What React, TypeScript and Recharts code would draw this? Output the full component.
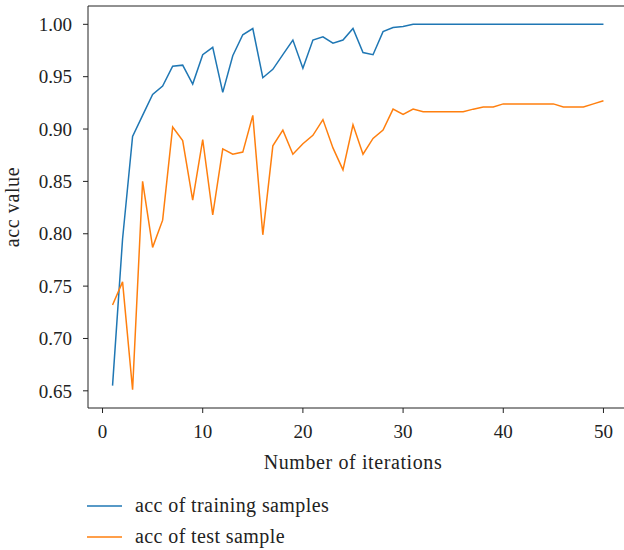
import { LineChart, Line, XAxis, YAxis, Legend, ReferenceLine } from 'recharts';

const iterations = [
  1, 2, 3, 4, 5, 6, 7, 8, 9, 10, 11, 12, 13, 14, 15, 16, 17, 18, 19, 20, 21, 22, 23, 24, 25,
  26, 27, 28, 29, 30, 31, 32, 33, 34, 35, 36, 37, 38, 39, 40, 41, 42, 43, 44, 45, 46, 47, 48, 49, 50,
];

const trainAcc = [
  0.655, 0.795, 0.893, 0.913, 0.933, 0.941, 0.96, 0.961, 0.943, 0.971,
  0.978, 0.935, 0.97, 0.99, 0.996, 0.949, 0.957, 0.971, 0.985, 0.958,
  0.985, 0.988, 0.982, 0.985, 0.996, 0.973, 0.971, 0.993, 0.997, 0.998,
  1.0, 1.0, 1.0, 1.0, 1.0, 1.0, 1.0, 1.0, 1.0, 1.0,
  1.0, 1.0, 1.0, 1.0, 1.0, 1.0, 1.0, 1.0, 1.0, 1.0,
];

const testAcc = [
  0.732, 0.754, 0.651, 0.85, 0.787, 0.813, 0.902, 0.889, 0.832, 0.89,
  0.818, 0.881, 0.876, 0.878, 0.913, 0.799, 0.884, 0.899, 0.876, 0.886,
  0.894, 0.909, 0.882, 0.861, 0.904, 0.876, 0.891, 0.899, 0.919, 0.914,
  0.919, 0.9165, 0.9165, 0.9165, 0.9165, 0.9165, 0.919, 0.921, 0.921, 0.924,
  0.924, 0.924, 0.924, 0.924, 0.924, 0.921, 0.921, 0.921, 0.924, 0.927,
];

const xTicks = [0, 10, 20, 30, 40, 50];
const yTicks = [0.65, 0.7, 0.75, 0.8, 0.85, 0.9, 0.95, 1.0];

const seriesNames = ['acc of training samples', 'acc of test sample'];
const BLUE = '#1f77b4';
const ORANGE = '#ff7f0e';
const FONT = "'Liberation Serif', 'Times New Roman', Tinos, 'DejaVu Serif', serif";
const Y_MAX = 1.0175;

const data = iterations.map((it, i) => ({ it, train: trainAcc[i], test: testAcc[i] }));

function LegendBox() {
  const items = [
    { name: seriesNames[0], color: BLUE },
    { name: seriesNames[1], color: ORANGE },
  ];
  return (
    <div style={{ paddingTop: 12, fontFamily: FONT, fontSize: 20, color: '#222' }}>
      {items.map((it) => (
        <div key={it.name} style={{ height: 31, display: 'flex', alignItems: 'center' }}>
          <svg width={35} height={4} style={{ marginRight: 13 }}>
            <line x1={0} y1={2} x2={35} y2={2} stroke={it.color} strokeWidth={1.5} />
          </svg>
          <span style={{ letterSpacing: 0.4 }}>{it.name}</span>
        </div>
      ))}
    </div>
  );
}

export default function App() {
  const tickStyle = { fontFamily: FONT, fontSize: 19, fill: '#222' };
  return (
    <div style={{ position: 'absolute', left: 0, top: 0, width: 624, height: 550, overflow: 'hidden', background: '#fff', fontFamily: FONT }}>
      <LineChart width={640} height={550} data={data} margin={{ top: 6, right: 12, left: 0, bottom: 8 }}>
        <XAxis
          dataKey="it"
          type="number"
          domain={[-1.45, 52.45]}
          ticks={xTicks}
          allowDataOverflow
          tickSize={5}
          tickMargin={12}
          height={70}
          tick={tickStyle}
          stroke="#222"
          label={{ value: 'Number of iterations', position: 'insideBottom', offset: 9, dx: -5, style: { fontFamily: FONT, fontSize: 20, fill: '#222', letterSpacing: 0.6 } }}
        />
        <YAxis
          type="number"
          domain={[0.6336, Y_MAX]}
          ticks={yTicks}
          allowDataOverflow
          width={88}
          tickSize={5}
          tickMargin={11}
          tick={tickStyle}
          stroke="#222"
          tickFormatter={(v: number) => v.toFixed(2)}
          label={{
            value: 'acc value',
            content: ({ viewBox }: any) => {
              const cx = 12;
              const cy = viewBox.y + viewBox.height / 2;
              return (
                <text x={cx} y={cy} transform={`rotate(-90, ${cx}, ${cy})`} textAnchor="middle" dominantBaseline="central" style={{ fontFamily: FONT, fontSize: 20, fill: '#222', letterSpacing: 0.6 }}>
                  acc value
                </text>
              );
            },
          }}
        />
        <ReferenceLine y={Y_MAX} stroke="#222" strokeWidth={1} />
        <Legend verticalAlign="bottom" content={() => <LegendBox />} wrapperStyle={{ left: 87, bottom: 8, height: 64, width: 320 }} />
        <Line type="linear" dataKey="train" name={seriesNames[0]} stroke={BLUE} strokeWidth={1.5} dot={false} isAnimationActive={false} />
        <Line type="linear" dataKey="test" name={seriesNames[1]} stroke={ORANGE} strokeWidth={1.5} dot={false} isAnimationActive={false} />
      </LineChart>
    </div>
  );
}
